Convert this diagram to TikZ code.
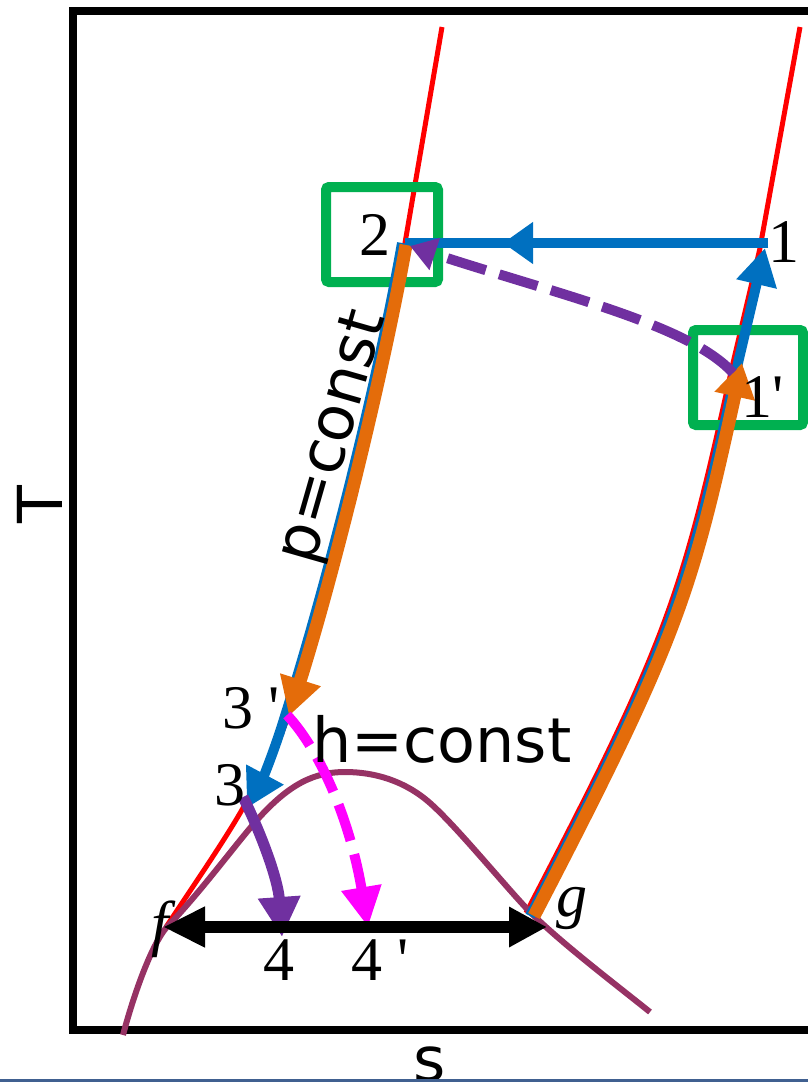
\documentclass[tikz,border=0pt]{standalone}
\usepackage{fontspec}
\setmainfont{Liberation Serif}
\newfontfamily\sansf{DejaVu Sans}
\usetikzlibrary{arrows.meta}
\definecolor{cred}{RGB}{255,0,0}
\definecolor{cblue}{RGB}{0,112,192}
\definecolor{corange}{RGB}{228,108,10}
\definecolor{cpurple}{RGB}{112,48,160}
\definecolor{cmag}{RGB}{255,0,255}
\definecolor{cgreen}{RGB}{0,176,80}
\definecolor{cdome}{RGB}{150,50,100}
\definecolor{cstrip}{RGB}{64,96,144}
\newcommand\lblsize{\fontsize{62pt}{62pt}\selectfont}
\tikzset{
  isobar/.style={cred, line width=5pt},
  bluepath/.style={cblue, line width=10pt},
  orangepath/.style={corange, line width=13pt},
  purplepath/.style={cpurple, line width=11pt},
  magpath/.style={cmag, line width=10pt, dash pattern=on 38pt off 14pt},
  purpdash/.style={cpurple, line width=10pt, dash pattern=on 40pt off 14pt},
  domeline/.style={cdome, line width=6pt},
  greenbox/.style={cgreen, line width=10pt, rounded corners=3pt},
  bigtip/.style={-{Triangle[length=38pt 0 0,width=40pt 0 0]}},
  numlbl/.style={anchor=base, inner sep=0pt, font=\lblsize},
  sanslbl/.style={anchor=base, inner sep=0pt, font=\sansf\lblsize},
}
\begin{document}
\begin{tikzpicture}[x=1pt,y=-1pt]
\useasboundingbox (0,0) rectangle (808,1082);
% frame
\draw[line width=8pt] (815,11) -- (73,11) -- (73,1030) -- (815,1030);
% named points
\coordinate (p1) at (768,243);
\coordinate (p2) at (405,243);
\coordinate (pmid) at (503,243);
\coordinate (pf) at (163,927);
\coordinate (pg) at (547,927);
% isobars
\draw[isobar] (442,27) -- (405,243) .. controls (381,380) and (331,580) .. (288,716)
  .. controls (276,752) and (260,780) .. (243,808) .. controls (226,838) and (196,882) .. (166,927);
\draw[isobar] (800,27) -- (759.6,250) -- (733,363) .. controls (682.4,593) and (670.6,636) .. (526,913);
% saturation dome
\draw[domeline] (123,1035) .. controls (135,990) and (152,945) .. (166,928)
  .. controls (200,893) and (235,845) .. (257,820)
  .. controls (290,783) and (315,772) .. (345,772)
  .. controls (375,772) and (405,781) .. (430,803)
  .. controls (455,825) and (500,880) .. (528,910)
  .. controls (560,942) and (610,980) .. (650,1012);
% green boxes
\draw[greenbox] (326,187) rectangle (438,282);
\draw[greenbox] (693,330) rectangle (803,425);
% blue paths
\draw[bluepath] (p1) -- (p2);
\draw[bluepath, -{Triangle[length=30pt 0 0,width=40pt 0 0]}] (p1) -- (pmid);
\draw[bluepath, bigtip] (402,243) .. controls (378,380) and (328,580) .. (285,716)
  .. controls (274,752) and (262,780) .. (247,808);
\draw[bluepath, -{Triangle[length=37pt 0 0,width=39pt 0 0]}] (530,916)
  .. controls (675.6,636) and (687.4,593) .. (738,363) -- (765,248);
% orange paths
\draw[orangepath, bigtip] (406,245) .. controls (382,380) and (332,580) .. (289,716);
\draw[orangepath, -{Triangle[length=34pt 0 0,width=39pt 0 0]}] (534,916)
  .. controls (679.6,636) and (691.4,593) .. (742,363);
% purple 3 -> 4
\draw[purplepath, -{Triangle[length=40pt 0 0,width=40pt 0 0]}] (243,797) .. controls (262,835) and (278,880) .. (282,937);
% magenta 3' -> 4'
\draw[magpath, -{Triangle[length=40pt 0 0,width=38pt 0 0]}] (287,715) .. controls (320,750) and (350,820) .. (368,927);
% purple dashed 1' -> 2
\draw[purpdash, -{Triangle[length=26pt 0 0,width=32pt 0 0]}] (733,373) .. controls (690,325) and (560,295) .. (410,246);
% black double arrow
\draw[line width=12pt, {Triangle[length=42pt 0 0,width=38pt 0 0]}-{Triangle[length=38pt 0 0,width=38pt 0 0]}] (pf) -- (pg);
% labels
\node[numlbl] (l2) at (375,255) {2};
\node[numlbl] (l1) at (784,262) {1};
\node[numlbl, anchor=base west] (l1p) at (741,417) {1\textquotesingle};
\node[numlbl, anchor=base west] (l3p) at (222,728) {3 \textquotesingle};
\node[numlbl] (l3) at (230,805) {3};
\node[numlbl] (l4) at (279,980) {4};
\node[numlbl, anchor=base west] (l4p) at (351,980) {4 \textquotesingle};
\node[numlbl] (lf) at (160,944) {\itshape f};
\node[numlbl] (lg) at (572,916) {\itshape g};
\node[sanslbl, anchor=base west] (lh) at (312,762) {h=const};
\node[sanslbl, rotate=74] (lp) at (349,442) {p=const};
\node[sanslbl, rotate=90] (lT) at (62,505) {T};
\node[sanslbl] (ls) at (430,1081) {s};
\fill[cstrip] (0,1079) rectangle (808,1082);
\end{tikzpicture}
\end{document}
